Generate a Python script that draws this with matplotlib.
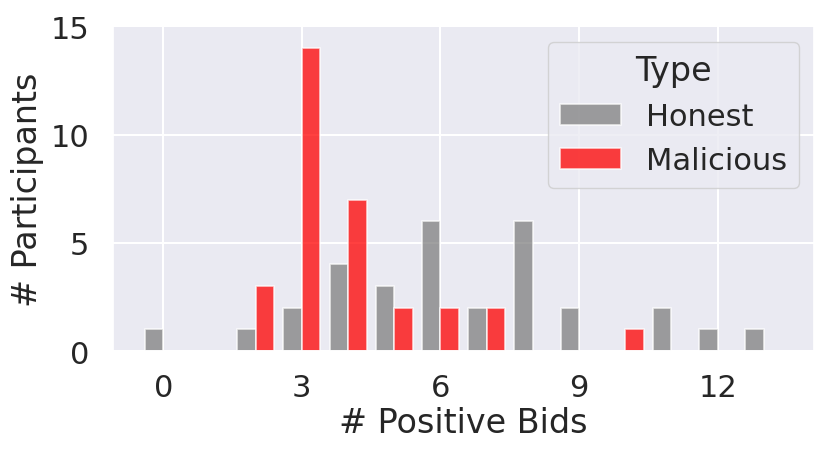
import numpy as np
import matplotlib
matplotlib.use("Agg")
import matplotlib.pyplot as plt
import seaborn as sns

bins = list(range(0, 14))
honest = [1, 0, 1, 2, 4, 3, 6, 2, 6, 2, 0, 2, 1, 1]
malicious = [0, 0, 3, 14, 7, 2, 2, 2, 0, 0, 1, 0, 0, 0]
series_names = ["Honest", "Malicious"]
colors = ["#808080", "#ff0000"]
xticks = [0, 3, 6, 9, 12]
yticks = [0, 5, 10, 15]

sns.set_theme(style="darkgrid", font_scale=2)
plt.rcParams['font.family'] = ['DejaVu Sans']
plt.rcParams['grid.linewidth'] = 1.5

fig, ax = plt.subplots(figsize=(8.3, 4.56), dpi=100)
w = 0.4
x = np.array(bins, dtype=float)
ax.bar(x - w, honest, width=w, align='edge', color=colors[0], alpha=0.75,
       edgecolor='white', linewidth=1.2, label=series_names[0])
ax.bar(x, malicious, width=w, align='edge', color=colors[1], alpha=0.75,
       edgecolor='white', linewidth=1.2, label=series_names[1])

ax.set_xticks(xticks)
ax.set_yticks(yticks)
ax.set_ylim(0, 15)
ax.tick_params(axis='y', pad=11)
ax.tick_params(axis='x', pad=10)
ax.set_xlabel("# Positive Bids", labelpad=3)
ax.set_ylabel("# Participants", labelpad=5)
leg = ax.legend(title="Type", loc='upper right')

fig.subplots_adjust(left=0.136, right=0.981, top=0.94, bottom=0.228)
fig.savefig("out.png", dpi=100)
